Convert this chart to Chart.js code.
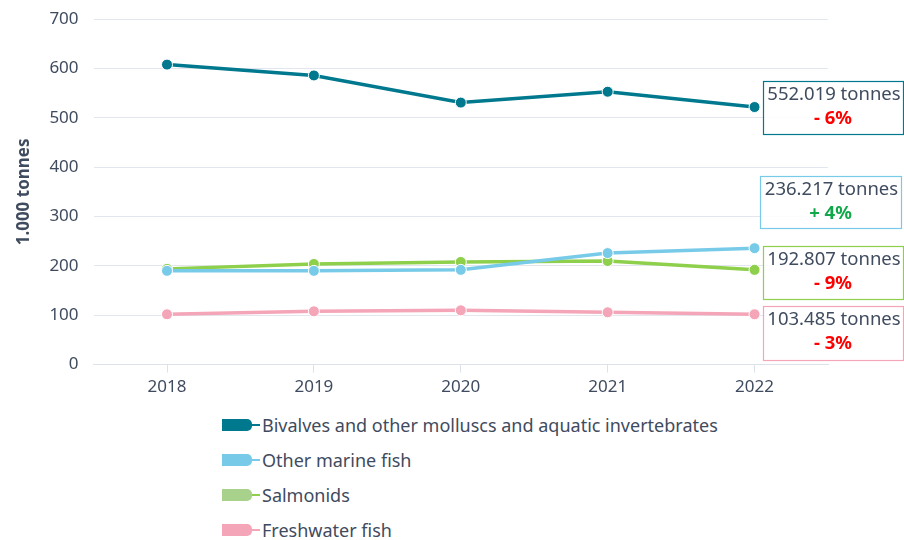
<!DOCTYPE html>
<html>
<head>
<meta charset="utf-8">
<script src="https://cdn.jsdelivr.net/npm/chart.js@4"></script>
<style>
  body { margin: 0; background: #fff; font-family: "Noto Sans", sans-serif; overflow: hidden; }
  #wrap { position: relative; width: 904px; height: 540px; overflow: hidden; }
  #box { position: absolute; left: 0; top: -6px; width: 904px; height: 407px; }
  #legend { position: absolute; left: 222px; top: 407px; }
  .item { display: flex; align-items: center; height: 35px; color: #3f4b5e; font-size: 18px; }
  .sw { width: 30px; height: 12px; border-radius: 0 5px 5px 0; }
  .dash { width: 8px; height: 2px; margin-right: 2px; }
</style>
</head>
<body>
<div id="wrap">
  <div id="box"><canvas id="c"></canvas></div>
  <div id="legend"></div>
</div>
<script>
const years = ["2018", "2019", "2020", "2021", "2022"];
const bivalves = [608, 586, 531, 553, 522];
const marineFish = [190, 190, 192, 226, 236];
const salmonids = [194, 204, 208, 210, 192];
const freshwater = [102, 108, 110, 106, 102];
const seriesNames = ["Bivalves and other molluscs and aquatic invertebrates", "Other marine fish", "Salmonids", "Freshwater fish"];
const lineColors = ["#00798f", "#78cbe8", "#8ecf4b", "#f4a5b7"];
const swatchColors = ["#00798f", "#78cbe8", "#a8d18c", "#f4a5b7"];
const totals = ["552.019 tonnes", "236.217 tonnes", "192.807 tonnes", "103.485 tonnes"];
const changes = ["- 6%", "+ 4%", "- 9%", "- 3%"];
const changeColors = ["#ff0000", "#11a84a", "#ff0000", "#ff0000"];

const textColor = "#3f4b5e";
const font = "Noto Sans";

// annotation boxes on the right (left, top, width, height) in page pixels
const boxes = [[763, 81, 140, 53], [760, 176, 141, 52], [763, 246, 140, 53], [763, 306, 140, 54]];
const canvasShift = 6;

const boxPlugin = {
  id: "boxes",
  afterDatasetsDraw(chart) {
    const ctx = chart.ctx;
    ctx.save();
    boxes.forEach((b, i) => {
      const top = b[1] + canvasShift;
      ctx.fillStyle = "rgba(255,255,255,0.85)";
      ctx.fillRect(b[0], top, b[2], b[3]);
      ctx.strokeStyle = lineColors[i];
      ctx.lineWidth = 1.2;
      ctx.strokeRect(b[0] + 0.5, top + 0.5, b[2], b[3]);
      ctx.textAlign = "center";
      ctx.textBaseline = "middle";
      ctx.fillStyle = textColor;
      ctx.font = "18.5px '" + font + "'";
      ctx.fillText(totals[i], b[0] + b[2] / 2 + 1, top + 14);
      ctx.fillStyle = changeColors[i];
      ctx.font = "bold 18.5px '" + font + "'";
      ctx.fillText(changes[i], b[0] + b[2] / 2, top + 38);
    });
    ctx.restore();
  }
};

const allSeries = [bivalves, marineFish, salmonids, freshwater];
const order = [1, 0, 2, 3];
const datasets = allSeries.map((d, i) => ({
  label: seriesNames[i],
  data: d,
  borderColor: lineColors[i],
  backgroundColor: lineColors[i],
  pointBackgroundColor: lineColors[i],
  pointBorderColor: "#ffffff",
  pointBorderWidth: 1,
  pointRadius: 5.5,
  borderWidth: 3.5,
  tension: 0,
  order: order[i]
}));

new Chart(document.getElementById("c"), {
  type: "line",
  data: { labels: years, datasets },
  plugins: [boxPlugin],
  options: {
    responsive: true,
    maintainAspectRatio: false,
    animation: false,
    layout: { padding: { top: 0, right: 76, left: 14, bottom: 0 } },
    plugins: { legend: { display: false }, tooltip: { enabled: false } },
    scales: {
      x: {
        offset: true,
        grid: { drawOnChartArea: false, color: "#dde1ea", tickLength: 8 },
        border: { color: "#dde1ea" },
        ticks: { color: textColor, font: { family: font, size: 17 }, padding: 4 }
      },
      y: {
        min: 0, max: 700,
        ticks: { stepSize: 100, color: textColor, font: { family: font, size: 17 }, padding: 15 },
        grid: { color: "#e3e6ee", drawTicks: false },
        border: { display: false },
        title: { display: true, text: "1.000 tonnes", color: textColor, font: { family: font, size: 17, weight: "bold" }, padding: 0 }
      }
    }
  }
});

const leg = document.getElementById("legend");
seriesNames.forEach((n, i) => {
  const row = document.createElement("div");
  row.className = "item";
  row.innerHTML = '<span class="sw" style="background:' + swatchColors[i] + '"></span>' +
    '<span class="dash" style="background:' + lineColors[i] + '"></span>' + n;
  leg.appendChild(row);
});
</script>
</body>
</html>
